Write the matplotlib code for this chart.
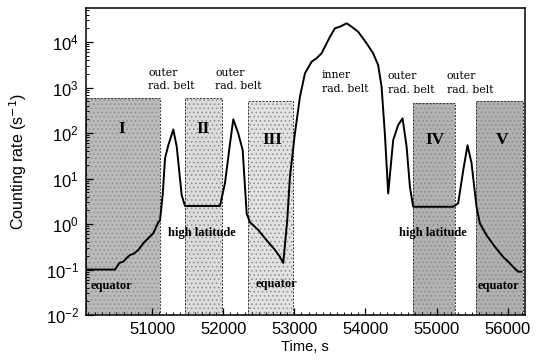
import matplotlib
matplotlib.use('Agg')
import matplotlib.pyplot as plt
from matplotlib.ticker import FixedLocator, MultipleLocator, LogLocator, NullFormatter

plt.rcParams['hatch.linewidth'] = 0.6

# counting rate along the orbit
time_s = [50073, 50480, 50541, 50597, 50645, 50691, 50737, 50808, 50878, 50948,
          51018, 51088, 51112, 51150, 51183, 51229, 51299, 51347, 51417, 51463,
          51955, 52025, 52096, 52142, 52212, 52274, 52330, 52376, 52493, 52611,
          52728, 52798, 52844, 52900, 52938, 53008, 53079, 53149, 53243, 53313,
          53383, 53500, 53570, 53640, 53735, 53805, 53897, 54015, 54108, 54178,
          54226, 54272, 54319, 54389, 54459, 54521, 54578, 54624, 54670, 55232,
          55302, 55373, 55434, 55490, 55560, 55607, 55701, 55817, 55934, 56004,
          56074, 56144, 56192]
rate = [0.10, 0.10, 0.14, 0.15, 0.18, 0.21, 0.22, 0.27, 0.38, 0.49,
        0.63, 1.1, 1.2, 4.5, 28, 54, 120, 50, 4.3, 2.5,
        2.5, 7.9, 59, 200, 98, 42, 1.7, 1.1, 0.74, 0.44,
        0.27, 0.19, 0.14, 1.2, 11, 98, 630, 2050, 3700, 4400,
        5650, 13000, 20000, 21700, 25800, 21700, 16800, 9400, 5650, 3100,
        1040, 98, 4.7, 70, 150, 210, 50, 6.6, 2.4, 2.4,
        2.85, 15, 54, 22, 2.4, 1.04, 0.57, 0.32, 0.19, 0.15,
        0.115, 0.09, 0.09]

# orbit segments
zone_names = ['I', 'II', 'III', 'IV', 'V']
zone_start = [50073, 51463, 52353, 54670, 55560]
zone_end = [51112, 51979, 52985, 55256, 56215]
zone_top = [580, 580, 510, 460, 510]
zone_shade = ['#bababa', '#dcdcdc', '#e2e2e2', '#b2b2b2', '#b0b0b0']
zone_label_t = [50579, 51716, 52685, 54975, 55916]
zone_label_y = [125, 125, 70, 70, 70]

belt_text = ['outer\nrad. belt', 'outer\nrad. belt', 'inner\nrad. belt',
             'outer\nrad. belt', 'outer\nrad. belt']
belt_t = [50944, 51885, 53388, 54315, 55143]
belt_y = [1500, 1500, 1320, 1250, 1250]

region_text = ['equator', 'high latitude', 'equator', 'high latitude', 'equator']
region_t = [50424, 51702, 52749, 54947, 55874]
region_y = [0.044, 0.63, 0.047, 0.65, 0.043]

fig = plt.figure(figsize=(5.4, 3.63), dpi=100)
ax = fig.add_axes([0.159, 0.132, 0.813, 0.846])

for t0, t1, top, c in zip(zone_start, zone_end, zone_top, zone_shade):
    ax.fill_between([t0, t1], 1e-2, top, facecolor=c, edgecolor='#8c8c8c',
                    hatch='....', linewidth=0, zorder=1)
    ax.plot([t0, t0, t1, t1], [1e-2, top, top, 1e-2], color='#333333',
            lw=0.7, ls=(0, (2, 1.5)), zorder=2)

ax.plot(time_s, rate, color='black', lw=1.4, zorder=3)

for name, t, y in zip(zone_names, zone_label_t, zone_label_y):
    ax.text(t, y, name, ha='center', va='center', fontsize=12.5, fontweight='bold',
            family='Liberation Serif', zorder=4)

for txt, t, y in zip(belt_text, belt_t, belt_y):
    ax.text(t, y, txt, ha='left', va='center', fontsize=7.8, family='DejaVu Serif',
            linespacing=1.45, zorder=4)

for txt, t, y in zip(region_text, region_t, region_y):
    ax.text(t, y, txt, ha='center', va='center', fontsize=9, fontweight='bold',
            family='Liberation Serif', zorder=4)

ax.set_yscale('log')
ax.set_xlim(50070, 56240)
ax.set_ylim(1e-2, 5.6e4)

ax.xaxis.set_major_locator(FixedLocator([51000, 52000, 53000, 54000, 55000, 56000]))
ax.xaxis.set_minor_locator(MultipleLocator(100))
ax.yaxis.set_major_locator(LogLocator(base=10, numticks=12))
ax.yaxis.set_minor_locator(LogLocator(base=10, subs=range(2, 10), numticks=12))
ax.yaxis.set_minor_formatter(NullFormatter())

ax.tick_params(which='both', direction='in', top=False, right=False)
ax.tick_params(which='major', length=5, width=0.9, labelsize=12, pad=5)
ax.tick_params(which='minor', length=2.5, width=0.7)
for lab in ax.get_xticklabels() + ax.get_yticklabels():
    lab.set_family('Liberation Sans')

for s in ax.spines.values():
    s.set_linewidth(1.1)

ax.set_xlabel('Time, s', fontsize=10.5, family='Liberation Sans', labelpad=2)
ax.set_ylabel('Counting rate (s$^{-1}$)', fontsize=11.5, family='Liberation Sans',
              labelpad=12)

fig.savefig('out.png', dpi=100)
